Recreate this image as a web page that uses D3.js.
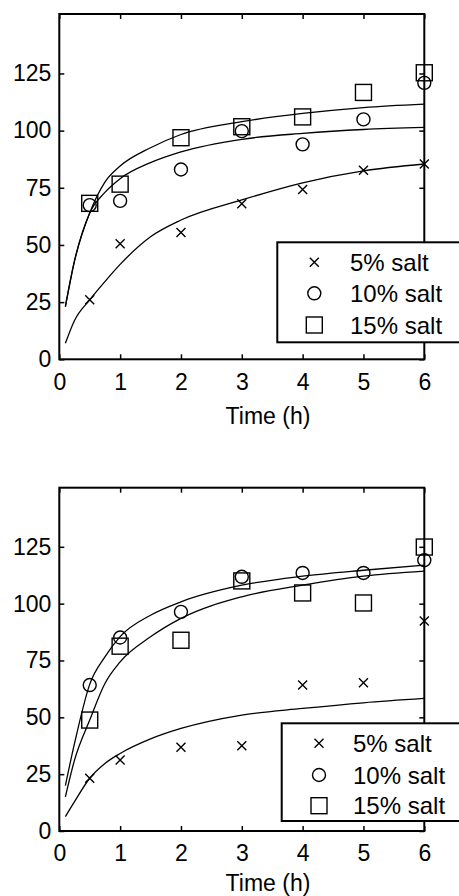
<!DOCTYPE html>
<html>
<head>
<meta charset="utf-8" />
<script src="https://d3js.org/d3.v7.min.js"></script>
<style>
  body { margin: 0; background: #fff; }
  text { font-family: "Liberation Sans", Arial, sans-serif; fill: #000; }
  .fit { fill: none; stroke: #000; stroke-width: 1.3px; }
  .mark { fill: none; stroke: #000; stroke-width: 1.4px; }
</style>
</head>
<body>
<svg width="459" height="896"></svg>
<script>
// tick labels
var timeTicks = [0, 1, 2, 3, 4, 5, 6];
var valueTicks = [0, 25, 50, 75, 100, 125];
var seriesNames = ["5% salt", "10% salt", "15% salt"];

// measured points
var sampleTimes = [0.5, 1, 2, 3, 4, 5, 6];
var topSalt5 = [26, 50.5, 55.5, 68, 74.3, 82.7, 85.4];
var topSalt10 = [67.4, 69.3, 83, 99.8, 94, 104.9, 120.9];
var topSalt15 = [68.2, 76.6, 96.9, 101.7, 106, 116.7, 125.3];
var botSalt5 = [23.2, 31.2, 36.8, 37.5, 64.2, 65.2, 92.4];
var botSalt10 = [64.2, 85.1, 96.4, 111.8, 113.5, 113.5, 119.1];
var botSalt15 = [48.8, 81.3, 83.9, 110, 104.7, 100.3, 124.9];

// fitted curves
var fitTimes = [0.1, 0.25, 0.5, 0.75, 1, 1.5, 2, 3, 4, 5, 6];
var topFit5 = [7, 17, 26, 34, 41.5, 53.6, 60.9, 69.7, 77.2, 82.4, 85.4];
var topFit10 = [23, 43, 64, 73, 79, 86, 90.7, 96.2, 98.8, 100.5, 101.4];
var topFit15 = [23, 43, 64, 77.5, 84.5, 92.5, 98.3, 103.9, 107.5, 110.1, 111.6];
var botFit5 = [6.3, 12.9, 23.2, 29.7, 34.1, 40.5, 45.1, 51, 53.9, 56.4, 58.3];
var botFit10 = [20, 38.5, 64.5, 76.6, 85.5, 94.9, 100.8, 108.1, 112.1, 114.7, 116.9];
var botFit15 = [15, 31.2, 48.8, 64.9, 74.4, 85.4, 93.5, 103, 108.1, 112.1, 114.3];

var svg = d3.select("svg");

svg.append("rect")
  .attr("width", "100%")
  .attr("height", "100%")
  .attr("fill", "#fff");

var markerTypes = ["x", "o", "s"];

var panels = [
  {top: 14, bottom: 359.3, points: [topSalt5, topSalt10, topSalt15], fits: [topFit5, topFit10, topFit15],
   legend: {x: 277.3, y: 242.3, h: 100, rows: [262.3, 293.3, 325], mx: 314.3, tx: 350}, titleY: 424},
  {top: 487.7, bottom: 831, points: [botSalt5, botSalt10, botSalt15], fits: [botFit5, botFit10, botFit15],
   legend: {x: 281.7, y: 723.3, h: 97.7, rows: [743.3, 775, 805.7], mx: 319, tx: 353}, titleY: 891}
];

var left = 59.3, right = 424.3;

// draws one marker at (px, py)
function drawMarker(g, type, px, py) {
  if (type === "x") {
    var s = 4.5;
    g.append("path").attr("class", "mark")
      .attr("d", "M" + (px - s) + "," + (py - s) + "L" + (px + s) + "," + (py + s) +
                 "M" + (px - s) + "," + (py + s) + "L" + (px + s) + "," + (py - s));
  } else if (type === "o") {
    g.append("ellipse").attr("class", "mark")
      .attr("cx", px).attr("cy", py).attr("rx", 6.5).attr("ry", 6.5);
  } else {
    g.append("rect").attr("class", "mark")
      .attr("x", px - 8).attr("y", py - 8).attr("width", 16).attr("height", 16);
  }
}

panels.forEach(function(p) {
  var x = d3.scaleLinear().domain([0, 6]).range([left, right]);
  var y = d3.scaleLinear().domain([0, 151]).range([p.bottom, p.top]);
  var g = svg.append("g");

  // axes, ticks pointing inward
  g.append("g").attr("transform", "translate(0," + p.bottom + ")")
    .call(d3.axisBottom(x).tickValues(timeTicks).tickFormat(d3.format("d")).tickSize(-5).tickPadding(14));
  g.append("g").attr("transform", "translate(" + left + ",0)")
    .call(d3.axisLeft(y).tickValues(valueTicks).tickFormat(d3.format("d")).tickSize(-5).tickPadding(8));
  g.append("g").attr("transform", "translate(0," + p.top + ")")
    .call(d3.axisTop(x).tickValues(timeTicks).tickSize(-5).tickFormat(""));
  g.append("g").attr("transform", "translate(" + right + ",0)")
    .call(d3.axisRight(y).tickValues(valueTicks).tickSize(-5).tickFormat(""));

  g.selectAll(".domain").remove();
  g.selectAll(".tick line").attr("stroke", "#000").attr("stroke-width", 1.5);
  g.selectAll(".tick text").style("font-size", "23px").attr("fill", "#000");

  g.append("rect")
    .attr("x", left).attr("y", p.top)
    .attr("width", right - left).attr("height", p.bottom - p.top)
    .attr("fill", "none").attr("stroke", "#000").attr("stroke-width", 2);

  // fitted lines
  var line = d3.line()
    .x(function(d) { return x(d[0]); })
    .y(function(d) { return y(d[1]); })
    .curve(d3.curveMonotoneX);

  p.fits.forEach(function(vals) {
    g.append("path").attr("class", "fit")
      .attr("d", line(fitTimes.map(function(t, i) { return [t, vals[i]]; })));
  });

  // data markers
  p.points.forEach(function(vals, k) {
    vals.forEach(function(v, i) {
      drawMarker(g, markerTypes[k], x(sampleTimes[i]), y(v));
    });
  });

  g.append("text")
    .attr("x", 268).attr("y", p.titleY)
    .attr("text-anchor", "middle")
    .style("font-size", "23px")
    .text("Time (h)");

  // legend
  var L = p.legend;
  g.append("rect")
    .attr("x", L.x).attr("y", L.y).attr("width", 200).attr("height", L.h)
    .attr("fill", "#fff").attr("stroke", "#000").attr("stroke-width", 2);
  seriesNames.forEach(function(name, k) {
    drawMarker(g, markerTypes[k], L.mx, L.rows[k]);
    g.append("text")
      .attr("x", L.tx).attr("y", L.rows[k])
      .attr("dy", "0.36em")
      .style("font-size", "24px")
      .text(name);
  });
});
</script>
</body>
</html>
